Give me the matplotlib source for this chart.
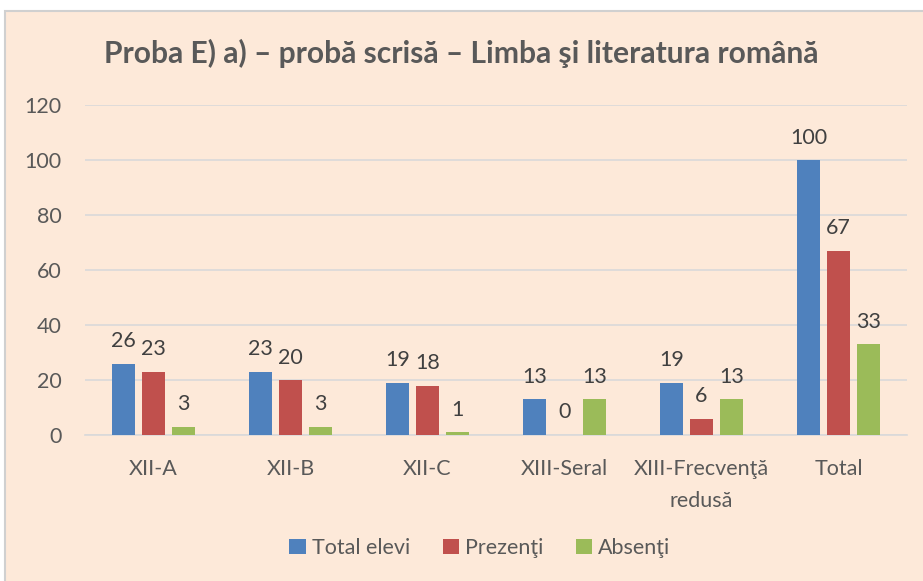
import matplotlib.pyplot as plt
import numpy as np
from matplotlib.patches import Rectangle

categories = ["XII-A", "XII-B", "XII-C", "XIII-Seral", "XIII-Frecvenţă\nredusă", "Total"]
total_elevi = [26, 23, 19, 13, 19, 100]
prezenti = [23, 20, 18, 0, 6, 67]
absenti = [3, 3, 1, 13, 13, 33]
series_names = ["Total elevi", "Prezenţi", "Absenţi"]
colors = ["#4F81BD", "#C0504D", "#9BBB59"]

plt.rcParams['font.family'] = ['Lato', 'DejaVu Sans']
text_color = "#595959"
fs = 15.5

fig = plt.figure(figsize=(9.23, 5.81), dpi=100)
fig.patch.set_facecolor("white")
# chart area background with border
fig.patches.append(Rectangle((5 / 923, -0.01), 1.0, 1 - 11 / 581 + 0.01,
                             transform=fig.transFigure, facecolor="#FDE9D9",
                             edgecolor="#D0D0D0", linewidth=1.5, zorder=-10))

ax = fig.add_axes([85 / 923, 1 - 435 / 581, 822 / 923, 330 / 581])
ax.set_facecolor("none")
ax.set_zorder(1)

x = np.arange(len(categories))
width = 0.175
step = 0.219
for k, (vals, name, c) in enumerate(zip([total_elevi, prezenti, absenti], series_names, colors)):
    pos = x + (k - 1) * step
    ax.bar(pos, vals, width, color=c, label=name, zorder=3)
    for xi, v in zip(pos, vals):
        ax.annotate(str(v), (xi, v), xytext=(0, 9), textcoords="offset points",
                    ha="center", va="bottom", fontsize=fs, color="#404040")

ax.set_xlim(-0.5, len(categories) - 0.5)
ax.set_ylim(0, 120)
ax.set_yticks(range(0, 121, 20))
ax.yaxis.grid(True, color="#D9D9D9", linewidth=1.2, zorder=0)
ax.set_axisbelow(True)
for s in ["top", "right", "left"]:
    ax.spines[s].set_visible(False)
ax.spines["bottom"].set_color("#D9D9D9")
ax.spines["bottom"].set_linewidth(1.2)
ax.tick_params(axis="both", length=0, labelsize=fs, labelcolor=text_color)
ax.tick_params(axis="y", pad=17)
ax.tick_params(axis="x", pad=17)
ax.set_xticks(x)
ax.set_xticklabels(categories, linespacing=1.8)

fig.text(0.5, 1 - 53 / 581, "Proba E) a) – probă scrisă – Limba şi literatura română",
         ha="center", va="center", fontsize=21.6, fontweight="bold", color=text_color)

handles, labels = ax.get_legend_handles_labels()
fig.legend(handles, labels, loc="center", bbox_to_anchor=(480 / 923, 1 - 548 / 581),
           ncol=3, frameon=False, fontsize=fs, labelcolor=text_color,
           handlelength=0.75, handleheight=0.75, handletextpad=0.3, columnspacing=1.5)

fig.savefig("out.png", dpi=100)
